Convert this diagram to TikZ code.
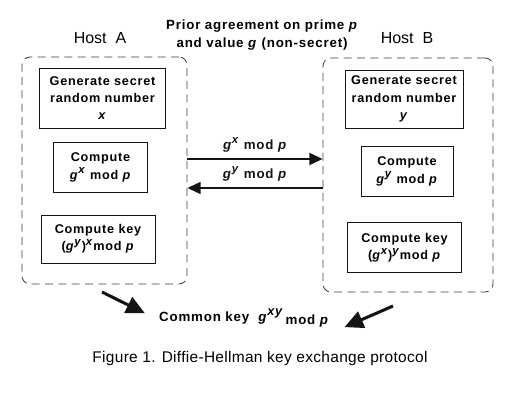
\documentclass[tikz,border=0pt]{standalone}
\usepackage{fontspec}
\setmainfont{Liberation Sans}
\newfontfamily\dhfont[LetterSpace=6]{Liberation Sans}
\newfontfamily\capfont[LetterSpace=2]{Liberation Sans}
\usepackage{tikz}
\usetikzlibrary{calc,arrows.meta,positioning}
\definecolor{dhblack}{RGB}{20,20,20}
\definecolor{dhdash}{RGB}{60,60,60}
\newcommand{\sups}[1]{\raisebox{0.42em}{\fontsize{8.5}{10}\selectfont\textit{#1}}}
\newcommand{\gpow}[1]{\textit{g}\sups{#1}}

\begin{document}
\begin{tikzpicture}[x=0.75pt,y=-0.75pt,
    hostbox/.style={draw=dhdash, line width=0.6pt, dash pattern=on 6pt off 4pt, rounded corners=6pt, inner sep=0pt},
    stepbox/.style={draw=dhblack, line width=0.6pt, inner sep=0pt, align=center, font=\dhfont\bfseries\fontsize{9.5}{13}\selectfont},
    msg/.style={dhblack, line width=1.5pt, -{Triangle[length=10pt,width=9pt]}},
    bigarrow/.style={dhblack, line width=2.3pt, -{Triangle[length=14pt,width=13pt]}}]
    \useasboundingbox (0,0) rectangle (520,410);

    % hosts
    \node[hostbox, minimum width=123.75pt, minimum height=170.25pt] (hostA) at (104.5,170.5) {};
    \node[hostbox, minimum width=127.5pt, minimum height=175.5pt] (hostB) at (408,175) {};
    \node[font=\fontsize{12}{14}\selectfont] (labA) at (100,38) {Host\ \ A};
    \node[font=\fontsize{12}{14}\selectfont] (labB) at (407,38) {Host\ \ B};
    \node[align=center, font=\dhfont\bfseries\fontsize{10}{14}\selectfont] (prior) at (262,35)
        {Prior agreement on prime \textit{p}\\and value \textit{g} (non-secret)};

    % steps of host A
    \node[stepbox, minimum width=94pt, minimum height=45pt] (genA) at (102.5,98)
        {Generate secret\\random number\\\textit{x}};
    \node[stepbox, minimum width=70pt, minimum height=38pt] (powA) at (100.5,167.5)
        {Compute\\\gpow{x} mod \textit{p}};
    \node[stepbox, minimum width=85.5pt, minimum height=36pt] (keyA) at (98,239)
        {Compute key\\(\gpow{y})\sups{x}mod \textit{p}};

    % steps of host B
    \node[stepbox, minimum width=88.5pt, minimum height=43.5pt] (genB) at (404,99)
        {Generate secret\\random number\\\textit{y}};
    \node[stepbox, minimum width=69pt, minimum height=38pt] (powB) at (407,171.5)
        {Compute\\\gpow{y} mod \textit{p}};
    \node[stepbox, minimum width=85pt, minimum height=37pt] (keyB) at (404.5,247.5)
        {Compute key\\(\gpow{x})\sups{y}mod \textit{p}};

    % exchange
    \coordinate (msgOne) at (0,159);
    \coordinate (msgTwo) at (0,188);
    \draw[msg] (hostA.east |- msgOne) -- (hostB.west |- msgOne)
        node[midway, above=1pt, font=\dhfont\bfseries\fontsize{10}{12}\selectfont] {\gpow{x} mod \textit{p}};
    \draw[msg] (hostB.west |- msgTwo) -- (hostA.east |- msgTwo)
        node[midway, above=1pt, font=\dhfont\bfseries\fontsize{10}{12}\selectfont] {\gpow{y} mod \textit{p}};

    % common key
    \node[font=\dhfont\bfseries\fontsize{10}{12}\selectfont] (common) at (244,318)
        {Common key\ \ \textit{g}\raisebox{0.42em}{\fontsize{9.5}{10}\selectfont\textit{xy}}\,\raisebox{-2.5pt}{mod \textit{p}}};
    \coordinate (tailA) at (102,292);
    \coordinate (tailB) at (393,306);
    \draw[bigarrow, shorten >=8pt] (tailA) -- (common.west);
    \draw[bigarrow, shorten >=9pt] (tailB) -- (common.south east);

    \node[font=\capfont\fontsize{11.6}{13}\selectfont] (caption) at (260,358)
        {Figure 1. Diffie-Hellman key exchange protocol};
\end{tikzpicture}
\end{document}
